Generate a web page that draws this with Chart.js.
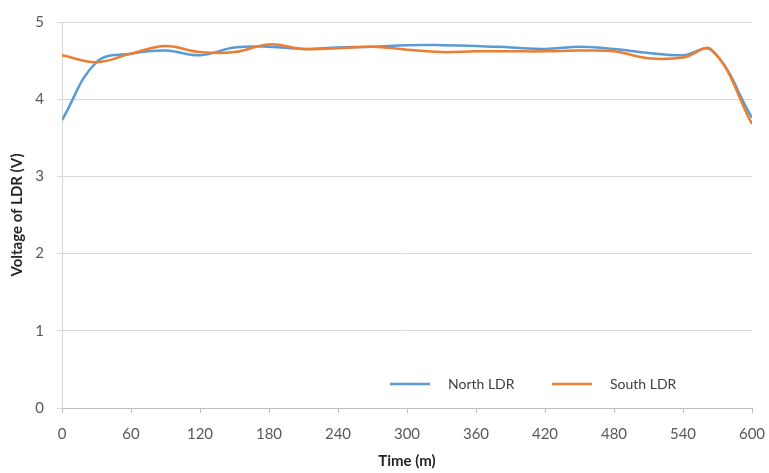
<!DOCTYPE html>
<html>
<head>
<meta charset="utf-8">
<script src="https://cdn.jsdelivr.net/npm/chart.js@4/dist/chart.umd.min.js"></script>
<style>
  html, body { margin: 0; padding: 0; background: #fff; }
  #wrap { width: 769px; height: 473px; position: relative; }
</style>
</head>
<body>
<div id="wrap"><canvas id="ldrChart"></canvas></div>
<script>
const timeMinutes = [0, 30, 60, 90, 120, 150, 180, 210, 240, 270, 300, 330, 360, 390, 420, 450, 480, 510, 540, 565, 600];
const northLdr = [3.73, 4.48, 4.59, 4.63, 4.57, 4.67, 4.68, 4.65, 4.67, 4.68, 4.70, 4.70, 4.69, 4.67, 4.65, 4.68, 4.65, 4.60, 4.57, 4.63, 3.76];
const southLdr = [4.57, 4.48, 4.59, 4.69, 4.61, 4.61, 4.71, 4.65, 4.66, 4.68, 4.64, 4.61, 4.62, 4.62, 4.62, 4.63, 4.62, 4.53, 4.54, 4.64, 3.68];
const seriesNames = ['North LDR', 'South LDR'];
const seriesColors = ['#5b9bd5', '#ed7d31'];

const fontFamily = 'Lato, "Open Sans", sans-serif';

function toPoints(values) {
  return values.map((v, i) => ({ x: timeMinutes[i], y: v }));
}

// legend sits inside the plot, near the bottom right like the excel chart
const insideLegend = {
  id: 'insideLegend',
  afterDraw(chart) {
    const c = chart.ctx;
    const area = chart.chartArea;
    const y = area.bottom - 24;
    const starts = [area.left + 328, area.left + 490];
    c.save();
    c.font = '14px ' + fontFamily;
    c.textBaseline = 'middle';
    seriesNames.forEach((name, i) => {
      const x = starts[i];
      c.strokeStyle = seriesColors[i];
      c.lineWidth = 2.5;
      c.beginPath();
      c.moveTo(x, y);
      c.lineTo(x + 40, y);
      c.stroke();
      c.fillStyle = '#404040';
      c.fillText(name, x + 58, y);
    });
    c.restore();
  }
};

new Chart(document.getElementById('ldrChart'), {
  type: 'line',
  data: {
    datasets: [
      {
        label: seriesNames[0],
        data: toPoints(northLdr),
        borderColor: seriesColors[0],
        borderWidth: 2.5,
        pointRadius: 0,
        tension: 0.4,
        order: 1
      },
      {
        label: seriesNames[1],
        data: toPoints(southLdr),
        borderColor: seriesColors[1],
        borderWidth: 2.5,
        pointRadius: 0,
        tension: 0.4,
        order: 0
      }
    ]
  },
  options: {
    responsive: true,
    maintainAspectRatio: false,
    animation: false,
    layout: { padding: { top: 18, right: 17, left: 0, bottom: 0 } },
    plugins: {
      legend: { display: false },
      tooltip: { enabled: false }
    },
    scales: {
      x: {
        type: 'linear',
        min: 0,
        max: 600,
        afterFit(scale) {
          scale.height = 65;
          scale.paddingRight = 12;
          scale.paddingLeft = 0;
        },
        ticks: {
          stepSize: 60,
          padding: 12,
          color: '#595959',
          font: { family: fontFamily, size: 15 }
        },
        grid: {
          drawOnChartArea: false,
          tickLength: 5,
          color: '#bfbfbf'
        },
        border: { color: '#bfbfbf' },
        title: {
          display: true,
          text: 'Time (m)',
          color: '#262626',
          padding: { top: 0, bottom: 3 },
          font: { family: fontFamily, size: 15, weight: 'bold' }
        }
      },
      y: {
        min: 0,
        max: 5,
        afterFit(scale) { scale.width = 62; },
        ticks: {
          stepSize: 1,
          padding: 13,
          color: '#595959',
          font: { family: fontFamily, size: 15 }
        },
        grid: {
          color: '#d9d9d9',
          tickLength: 5
        },
        border: { color: '#d9d9d9' },
        title: {
          display: true,
          text: 'Voltage of LDR (V)',
          color: '#262626',
          padding: { top: 8, bottom: 0 },
          font: { family: fontFamily, size: 15, weight: 'bold' }
        }
      }
    }
  },
  plugins: [insideLegend]
});
</script>
</body>
</html>
